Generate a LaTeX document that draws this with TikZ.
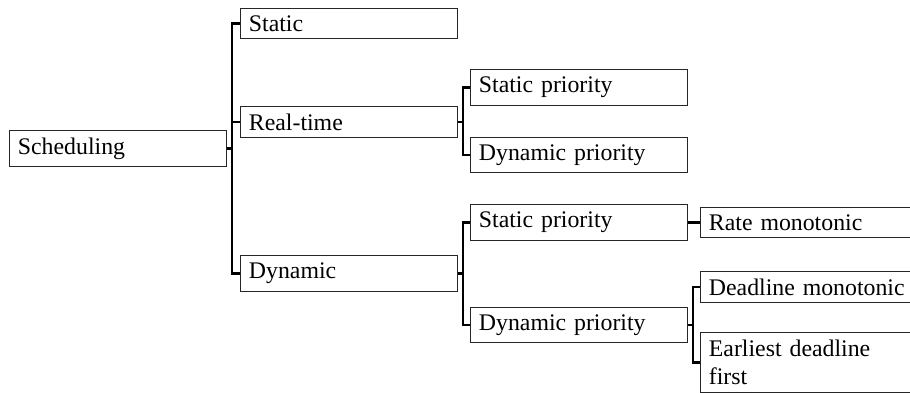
\documentclass[tikz,border=0pt]{standalone}
\usepackage{fontspec}
\setmainfont{Liberation Serif}
\usepackage{tikz}

\begin{document}
\begin{tikzpicture}[x=0.42pt,y=-0.42pt]
		\tikzset{box/.style={draw=black!85,line width=0.5pt,anchor=west,align=left,text width=84pt,inner xsep=3.5pt,inner ysep=3.1pt}}
		\tikzset{fork/.style={line width=0.9pt}}
		\useasboundingbox (0,0) rectangle (910,393);
		\clip (0,0) rectangle (910,393);
		\node[box] (sched) at (9,148.5) {Scheduling};
		\node[box] (static) at (240,23.5) {Static};
		\node[box] (realtime) at (240,122) {Real-time};
		\node[box] (dynamic) at (240,273.5) {Dynamic};
		\node[box] (rtstatic) at (470,87.5) {Static priority};
		\node[box] (rtdyn) at (470,155) {Dynamic priority};
		\node[box] (dynstatic) at (470,222.5) {Static priority};
		\node[box] (dyndyn) at (470,325) {Dynamic priority};
		\node[box] (rate) at (700,222.5) {Rate monotonic};
		\node[box] (deadline) at (700,287) {Deadline monotonic};
		\node[box] (edf) at (700,362.5) {Earliest deadline first};
		\foreach \p/\c in {sched/static,sched/realtime,sched/dynamic,realtime/rtstatic,realtime/rtdyn,dynamic/dynstatic,dynamic/dyndyn,dynstatic/rate,dyndyn/deadline,dyndyn/edf}
			\draw[fork] (\p.east) -- ++(5,0) |- (\c.west);
	\end{tikzpicture}
\end{document}
